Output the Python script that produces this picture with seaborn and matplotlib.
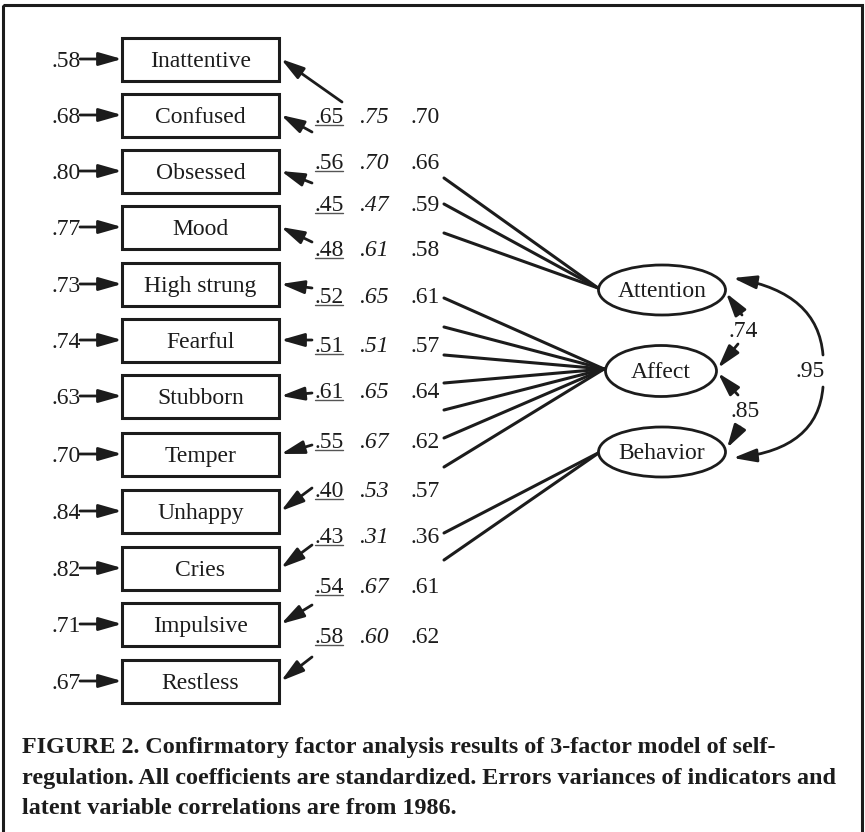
import matplotlib
matplotlib.use("Agg")
import matplotlib.pyplot as plt
import seaborn as sns
import pandas as pd
from matplotlib.patches import Rectangle, Ellipse, FancyArrowPatch
from matplotlib.path import Path

# ---------------- data ----------------
indicators = ["Inattentive", "Confused", "Obsessed", "Mood", "High strung", "Fearful",
              "Stubborn", "Temper", "Unhappy", "Cries", "Impulsive", "Restless"]
error_var = [".58", ".68", ".80", ".77", ".73", ".74", ".63", ".70", ".84", ".82", ".71", ".67"]
load_a = [".65", ".56", ".45", ".48", ".52", ".51", ".61", ".55", ".40", ".43", ".54", ".58"]
load_b = [".75", ".70", ".47", ".61", ".65", ".51", ".65", ".67", ".53", ".31", ".67", ".60"]
load_c = [".70", ".66", ".59", ".58", ".61", ".57", ".64", ".62", ".57", ".36", ".61", ".62"]
latents = ["Attention", "Affect", "Behavior"]
lines_per_latent = [3, 7, 2]
corr_att_aff = ".74"
corr_aff_beh = ".85"
corr_att_beh = ".95"
caption = ["FIGURE 2. Confirmatory factor analysis results of 3-factor model of self-",
           "regulation. All coefficients are standardized. Errors variances of indicators and",
           "latent variable correlations are from 1986."]

# ---------------- layout ----------------
INK = "#1c1c1c"
box_y = [59, 115, 171, 227, 284, 340, 396, 454, 511, 568, 624, 681]
label_y = [115, 161, 203, 248, 295, 344, 390, 440, 489, 535, 585, 635]
arrow_start = [(342, 102), (312, 132), (312, 183), (312, 242), (312, 288), (312, 340),
               (312, 393), (312, 445), (312, 488), (312, 545), (312, 605), (312, 657)]
latent_xy = [(662, 290), (661, 371), (662, 452)]
latent_wh = [(127, 50), (111, 51), (127, 50)]
line_starts = [[178, 204, 233], [298, 327, 355, 383, 410, 438, 467], [533, 560]]
line_ends = [(598, 288), (604, 369), (600, 452)]

sns.set_theme(style="white")
plt.rcParams["font.family"] = ["Liberation Serif", "DejaVu Serif"]

fig = plt.figure(figsize=(8.65, 8.32), dpi=100)
ax = fig.add_axes([0, 0, 1, 1])

FS = 17
HEAD = "-|>,head_length=1.4,head_width=0.4"

def arrow(p0, p1, lw=2.0):
    a = FancyArrowPatch(p0, p1, arrowstyle=HEAD, mutation_scale=10, shrinkA=0, shrinkB=0,
                        lw=lw, color=INK, zorder=3)
    ax.add_patch(a)

# loading lines (seaborn)
rows = []
seg = 0
for starts, end in zip(line_starts, line_ends):
    for sy in starts:
        rows.append({"seg": seg, "x": 444, "y": sy})
        rows.append({"seg": seg, "x": end[0], "y": end[1]})
        seg += 1
df = pd.DataFrame(rows)
sns.lineplot(data=df, x="x", y="y", units="seg", estimator=None, sort=False,
             color=INK, lw=2.2, legend=False, ax=ax)
ax.set_xlim(0, 865)
ax.set_ylim(832, 0)
ax.axis("off")

# frame
ax.add_patch(Rectangle((2.5, 5), 859, 900, fill=False, lw=2.2, edgecolor=INK, zorder=1))

# indicator boxes, error variances
for name, ev, yc in zip(indicators, error_var, box_y):
    ax.add_patch(Rectangle((122, yc - 21.5), 157, 43, fill=False, lw=2.2, edgecolor=INK, zorder=2))
    ax.text(200.5, yc + 8, name, ha="center", va="baseline", fontsize=FS, color=INK)
    ax.text(81, yc + 8, ev, ha="right", va="baseline", fontsize=FS, color=INK)
    arrow((80, yc), (122, yc))

# loading labels
for a, b, c, ly in zip(load_a, load_b, load_c, label_y):
    ax.text(329, ly + 8, a, ha="center", va="baseline", fontsize=FS, color=INK)
    ax.plot([315, 343], [ly + 9.5, ly + 9.5], color="#555555", lw=1.0)
    ax.text(374, ly + 8, b, ha="center", va="baseline", fontsize=FS, color=INK, style="italic")
    ax.text(425, ly + 8, c, ha="center", va="baseline", fontsize=FS, color=INK)

# arrows to boxes
for (sx, sy), yc in zip(arrow_start, box_y):
    arrow((sx, sy), (281, yc))

# latent ellipses
for name, (cx, cy), (w, h) in zip(latents, latent_xy, latent_wh):
    ax.add_patch(Ellipse((cx, cy), w, h, fill=True, facecolor="white", lw=2.0, edgecolor=INK, zorder=4))
    ax.text(cx, cy + 7, name, ha="center", va="baseline", fontsize=FS, color=INK, zorder=5)

# correlations
ax.text(743, 337, corr_att_aff, ha="center", va="baseline", fontsize=FS, color=INK)
arrow((742, 315), (726, 293))
arrow((738, 344), (718, 368))
ax.text(745, 417, corr_aff_beh, ha="center", va="baseline", fontsize=FS, color=INK)
arrow((738, 395), (718, 373))
arrow((740, 427), (727, 448))
ax.text(810, 377, corr_att_beh, ha="center", va="baseline", fontsize=FS, color=INK)
for verts in ([(823, 355), (818, 293), (733, 278)], [(823, 387), (818, 449), (733, 458)]):
    p = Path(verts, [Path.MOVETO, Path.CURVE3, Path.CURVE3])
    ax.add_patch(FancyArrowPatch(path=p, arrowstyle=HEAD, mutation_scale=10, lw=2.0,
                                 color=INK, zorder=3))

# caption
renderer = fig.canvas.get_renderer()
t = ax.text(22, 784, caption[1], ha="left", va="baseline", fontsize=15, fontweight="bold", color=INK)
w = t.get_window_extent(renderer).width
cap_fs = 15 * 813 / w
t.set_fontsize(cap_fs)
ax.text(22, 753, caption[0], ha="left", va="baseline", fontsize=cap_fs, fontweight="bold", color=INK)
ax.text(22, 814, caption[2], ha="left", va="baseline", fontsize=cap_fs, fontweight="bold", color=INK)

fig.savefig("out.png", dpi=100, facecolor="white")
